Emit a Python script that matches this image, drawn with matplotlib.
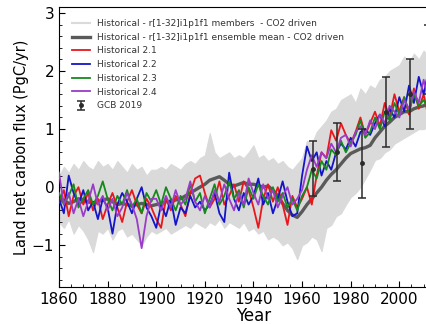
import numpy as np
import matplotlib
matplotlib.use("Agg")
import matplotlib.pyplot as plt
from matplotlib.lines import Line2D
from matplotlib.ticker import MultipleLocator

# ──────────────────────────────────────────
# DATA (every 2 years)
# ──────────────────────────────────────────
anos = np.arange(1860, 2015, 2)

membros_max = [0.2, 0.35, 0.25, 0.4, 0.3, 0.45, 0.35, 0.3, 0.45, 0.35,
               0.4, 0.3, 0.45, 0.35, 0.25, 0.4, 0.3, 0.35, 0.2, 0.3,
               0.3, 0.35, 0.3, 0.4, 0.35, 0.3, 0.4, 0.45, 0.4, 0.5,
               0.55, 0.93, 0.6, 0.5, 0.55, 0.6, 0.5, 0.55, 0.5, 0.6,
               0.72, 0.5, 0.55, 0.45, 0.5, 0.4, 0.45, 0.35, 0.3, 0.4,
               0.5, 0.8, 0.75, 0.95, 1.05, 1.15, 1.3, 1.35, 1.5, 1.55,
               1.6, 1.45, 1.7, 1.6, 1.75, 1.7, 1.85, 1.9, 2.0, 2.05,
               2.1, 2.25, 2.15, 2.3, 2.2, 2.35, 2.25, 2.3]
membros_min = [-0.6, -0.7, -0.55, -0.8, -0.65, -0.75, -0.9, -1.12, -0.75, -0.8,
               -0.7, -0.9, -0.75, -0.7, -0.85, -0.8, -0.9, -1.0, -0.85, -0.75,
               -0.8, -0.75, -0.7, -0.8, -0.75, -0.7, -0.65, -0.7, -0.6, -0.65,
               -0.7, -0.6, -0.65, -0.55, -0.7, -0.6, -0.65, -0.7, -0.6, -0.75,
               -0.7, -0.8, -0.75, -0.9, -0.85, -0.9, -1.0, -0.95, -1.05, -1.24,
               -1.0, -0.95, -0.85, -0.9, -1.1, -0.7, -0.65, -0.5, -0.45, -0.3,
               -0.17, -0.1, 0.0, 0.15, 0.3, 0.47, 0.5, 0.6, 0.65, 0.75,
               0.8, 0.85, 0.9, 0.95, 1.0, 1.0, 1.05, 1.1]
media = [-0.25, -0.22, -0.28, -0.25, -0.2, -0.22, -0.25, -0.28, -0.25, -0.22,
         -0.2, -0.25, -0.3, -0.28, -0.3, -0.32, -0.3, -0.28, -0.3, -0.32,
         -0.3, -0.28, -0.25, -0.25, -0.22, -0.2, -0.15, -0.1, -0.05, 0.0,
         0.05, 0.12, 0.15, 0.18, 0.12, 0.05, 0.02, 0.05, 0.08, 0.05,
         0.05, 0.03, 0.0, 0.02, -0.05, -0.15, -0.28, -0.4, -0.48, -0.52,
         -0.42, -0.3, -0.2, -0.1, 0.0, 0.12, 0.22, 0.3, 0.4, 0.5,
         0.58, 0.62, 0.66, 0.68, 0.72, 0.85, 0.95, 1.05, 1.12, 1.2,
         1.25, 1.3, 1.3, 1.35, 1.38, 1.4, 1.45, 1.48]
hist_21 = [-0.25, -0.05, -0.5, -0.15, 0.0, -0.3, -0.1, -0.4, -0.2, -0.55,
           -0.3, -0.1, -0.35, -0.6, -0.25, -0.05, -0.3, -0.45, -0.2, -0.35,
           -0.55, -0.7, -0.2, -0.4, -0.15, -0.3, -0.5, -0.1, 0.15, 0.2,
           -0.1, -0.35, -0.2, 0.1, -0.3, -0.15, 0.05, -0.25, 0.1, -0.05,
           -0.35, -0.7, -0.2, 0.05, -0.25, 0.0, -0.3, -0.65, -0.15, -0.35,
           -0.2, 0.0, -0.3, 0.2, 0.6, 0.5, 0.98, 0.8, 1.1, 0.9,
           0.75, 0.95, 1.2, 0.9, 1.1, 1.3, 1.05, 1.45, 1.2, 1.6,
           1.3, 1.55, 1.25, 1.7, 1.35, 1.6, 1.2, 1.5]
hist_22 = [-0.2, -0.45, 0.2, -0.1, -0.3, -0.05, -0.4, -0.25, -0.55, -0.2,
           -0.35, -0.8, -0.3, -0.1, -0.25, -0.45, -0.2, 0.0, -0.35, -0.5,
           -0.7, -0.3, -0.5, -0.2, -0.65, -0.35, -0.45, -0.15, -0.35, -0.25,
           -0.4, -0.3, -0.1, -0.45, -0.6, 0.25, -0.2, -0.4, -0.1, -0.3,
           -0.15, 0.15, -0.3, -0.1, -0.45, -0.2, 0.1, -0.25, -0.5, -0.45,
           0.2, 0.7, 0.45, 0.6, 0.2, 0.45, 0.3, 0.6, 0.75, 0.65,
           0.85, 0.7, 0.95, 1.0, 0.9, 1.1, 1.25, 1.05, 1.35, 1.2,
           1.55, 1.3, 1.75, 1.45, 1.9, 1.6, 2.0, 1.7]
hist_23 = [-0.1, -0.3, -0.15, 0.05, -0.35, -0.2, -0.05, -0.3, -0.15, 0.1,
           -0.2, -0.4, -0.15, -0.3, -0.05, -0.35, -0.2, -0.45, -0.1, -0.25,
           -0.05, -0.3, 0.0, -0.2, -0.4, -0.15, -0.3, 0.05, -0.25, -0.1,
           -0.45, -0.2, 0.05, -0.3, -0.15, 0.1, -0.2, -0.05, -0.35, 0.0,
           -0.2, 0.05, -0.15, -0.3, 0.0, -0.25, -0.1, -0.35, -0.2, -0.4,
           -0.15, 0.0, 0.3, 0.15, 0.45, 0.3, 0.65, 0.55, 0.8, 0.6,
           0.76, 0.9, 1.15, 0.85, 0.95, 1.2, 1.0, 1.3, 1.15, 1.45,
           1.25, 1.55, 1.3, 1.6, 1.4, 1.5, 1.35, 1.55]
hist_24 = [0.25, -0.3, -0.1, -0.45, -0.2, -0.5, -0.25, 0.05, -0.3, -0.15,
           -0.4, -0.2, -0.5, -0.35, -0.1, -0.3, -0.55, -1.05, -0.5, -0.2,
           -0.2, -0.4, -0.15, -0.35, -0.05, -0.3, -0.2, 0.1, -0.25, -0.4,
           -0.15, -0.35, -0.05, -0.25, 0.05, -0.2, -0.4, -0.1, -0.3, 0.15,
           -0.1, -0.3, 0.05, -0.2, -0.05, -0.35, -0.15, 0.0, -0.3, -0.2,
           -0.05, 0.3, 0.55, 0.35, 0.6, 0.5, 0.75, 0.6, 0.85, 0.9,
           0.7, 0.95, 1.05, 0.9, 1.15, 1.0, 1.25, 1.1, 1.4, 1.3,
           1.2, 1.5, 1.35, 1.65, 1.45, 1.85, 1.5, 1.75]

gcb_anos = [1964.5, 1974.5, 1984.5, 1994.5, 2004.5, 2012]
gcb_valor = [0.32, 0.61, 0.41, 1.3, 1.6, 2.2]
gcb_erro = [0.48, 0.5, 0.6, 0.6, 0.6, 0.6]

# ──────────────────────────────────────────
# FIGURE
# ──────────────────────────────────────────
fig = plt.figure(figsize=(4.26, 3.24), dpi=100)
ax = fig.add_axes([0.1385, 0.114, 0.913, 0.864])

cinza_claro = "#dadada"
ax.fill_between(anos, membros_min, membros_max, color=cinza_claro, lw=0.8,
                edgecolor=cinza_claro, zorder=1)
ax.plot(anos, media, color="#5a5a5a", lw=2.4, zorder=3)
ax.plot(anos, hist_21, color="#e8171c", lw=1.3, zorder=4)
ax.plot(anos, hist_22, color="#1414c8", lw=1.3, zorder=4)
ax.plot(anos, hist_23, color="#16891c", lw=1.3, zorder=4)
ax.plot(anos, hist_24, color="#9a3cc8", lw=1.3, zorder=4)
gcb = ax.errorbar(gcb_anos, gcb_valor, yerr=gcb_erro, fmt="o", color="#2a2a2a",
                  ms=2.5, elinewidth=1.1, capsize=3, capthick=1.1, zorder=6)

handles = [
    Line2D([], [], color=cinza_claro, lw=1.5),
    Line2D([], [], color="#5a5a5a", lw=2.4),
    Line2D([], [], color="#e8171c", lw=1.3),
    Line2D([], [], color="#1414c8", lw=1.3),
    Line2D([], [], color="#16891c", lw=1.3),
    Line2D([], [], color="#9a3cc8", lw=1.3),
    gcb,
]
labels = [
    "Historical - r[1-32]i1p1f1 members  - CO2 driven",
    "Historical - r[1-32]i1p1f1 ensemble mean - CO2 driven",
    "Historical 2.1",
    "Historical 2.2",
    "Historical 2.3",
    "Historical 2.4",
    "GCB 2019",
]
leg = ax.legend(handles, labels, loc="upper left", bbox_to_anchor=(0.015, 0.983),
                frameon=False, fontsize=6.5, handlelength=2.0, handletextpad=0.8,
                labelspacing=0.52, borderaxespad=0.4)
for t in leg.get_texts():
    t.set_color("#333333")

ax.set_xlim(1860, 2020)
ax.set_ylim(-1.72, 3.1)
ax.set_yticks([-1, 0, 1, 2, 3])
ax.set_xticks(range(1860, 2020, 20))
ax.xaxis.set_minor_locator(MultipleLocator(5))
ax.yaxis.set_minor_locator(MultipleLocator(0.2))
ax.tick_params(which="both", direction="in", labelsize=11, top=False, right=False)
ax.tick_params(which="major", length=4)
ax.tick_params(which="minor", length=2)

ax.set_title("Land", fontsize=24, pad=1.5)
ax.set_xlabel("Year", fontsize=12, labelpad=0)
ax.set_ylabel("Land net carbon flux (PgC/yr)", fontsize=10.5, labelpad=2)

plt.savefig("out.png", dpi=100)
